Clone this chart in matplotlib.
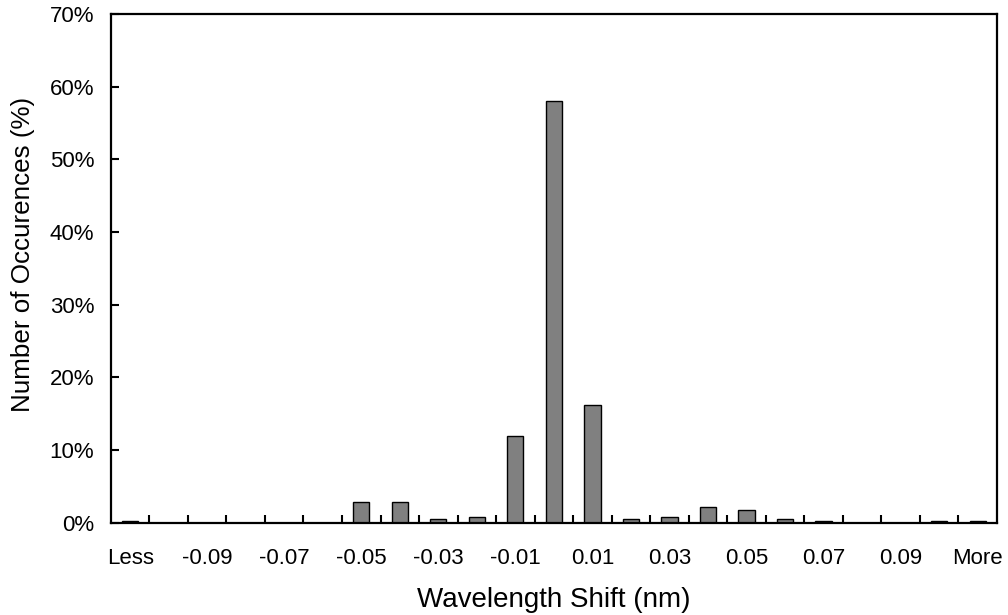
import numpy as np
import matplotlib.pyplot as plt
from matplotlib.ticker import FuncFormatter

plt.rcParams['font.family'] = ['Liberation Sans', 'DejaVu Sans']

# histogram bins (Excel style: Less, -0.10 ... 0.10, More)
bins = ['Less'] + ['%.2f' % v for v in np.round(np.arange(-0.10, 0.1001, 0.01), 2)] + ['More']
bins = [b.replace('-0.00', '0.00') for b in bins]
# share of occurrences in each bin (%)
occurrences = [0.2, 0.0, 0.0, 0.0, 0.0, 0.0, 2.9, 2.9, 0.5, 0.8, 12.0,
               58.0, 16.2, 0.5, 0.8, 2.2, 1.8, 0.5, 0.2, 0.0, 0.0, 0.2, 0.2]

fig = plt.figure(figsize=(10.08, 6.15), dpi=100)
ax = fig.add_axes([0.110, 0.150, 0.879, 0.827])

x = np.arange(len(bins))
ax.bar(x, occurrences, width=0.42, color='#808080', edgecolor='black', linewidth=1.0)

ax.set_xlim(-0.5, len(bins) - 0.5)
ax.set_ylim(0, 70)
ax.set_yticks(np.arange(0, 71, 10))
ax.yaxis.set_major_formatter(FuncFormatter(lambda v, p: '%d%%' % v))

# labels on every other bin, tick marks between bins
ax.set_xticks(x[::2])
ax.set_xticklabels([bins[i] for i in x[::2]])
ax.set_xticks(np.arange(0.5, len(bins) - 1, 1), minor=True)
ax.tick_params(axis='x', which='major', length=0, pad=18, labelsize=16)
ax.tick_params(axis='x', which='minor', direction='in', length=6, width=1.5)
ax.tick_params(axis='y', direction='in', length=6, width=1.5, labelsize=16, pad=12)

for s in ax.spines.values():
    s.set_linewidth(1.6)

ax.set_xlabel('Wavelength Shift (nm)', fontsize=20, labelpad=13)
ax.set_ylabel('Number of Occurences (%)', fontsize=18.7, labelpad=12)
ax.yaxis.set_label_coords(-0.086, 0.527)

fig.savefig('out.png', dpi=100)
